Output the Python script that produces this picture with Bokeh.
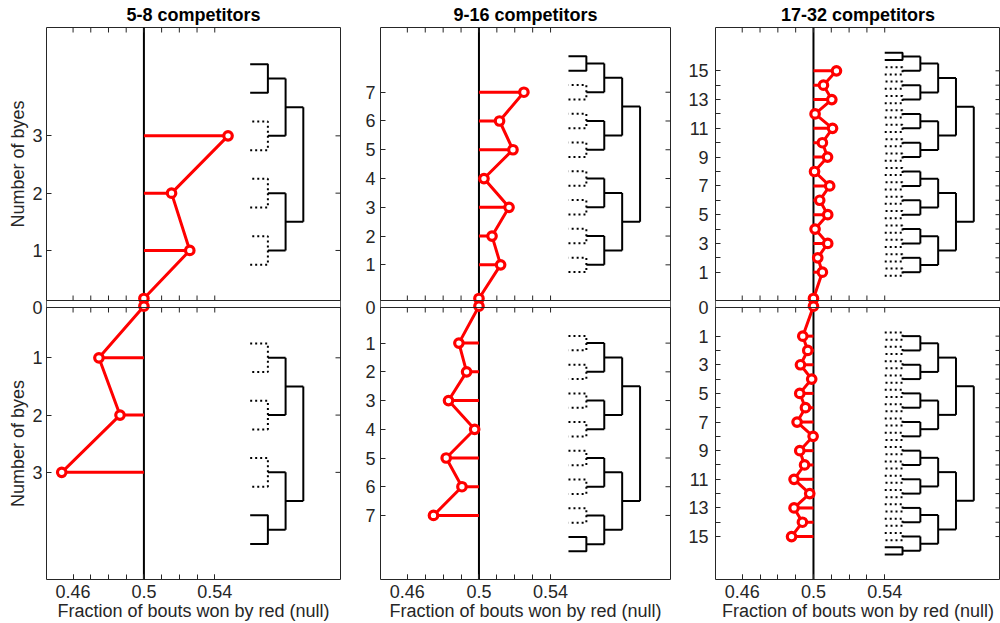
import numpy as np
from bokeh.plotting import figure
from bokeh.layouts import row
from bokeh.models import (Range1d, FixedTicker, CustomJSTickFormatter, Span, LinearAxis)
from bokeh.embed import file_html
from bokeh.resources import INLINE

# ---------------- data ----------------
titles = ["5-8 competitors", "9-16 competitors", "17-32 competitors"]

byes_58 = [0, 1, 2, 3]
frac_58_top = [0.5, 0.5259, 0.5156, 0.5475]
frac_58_bot = [0.5, 0.4746, 0.4865, 0.4536]

byes_916 = [0, 1, 2, 3, 4, 5, 6, 7]
frac_916_top = [0.5, 0.5121, 0.5073, 0.5168, 0.5028, 0.5190, 0.5115, 0.5251]
frac_916_bot = [0.5, 0.4888, 0.4931, 0.4830, 0.4976, 0.4817, 0.4905, 0.4746]

byes_1732 = list(range(16))
frac_1732_top = [0.5, 0.5050, 0.5024, 0.5080, 0.5009, 0.5080, 0.5035, 0.5091,
                 0.5006, 0.5079, 0.5050, 0.5107, 0.5009, 0.5103, 0.5056, 0.5129]
frac_1732_bot = [0.5, 0.4940, 0.4968, 0.4927, 0.4990, 0.4923, 0.4955, 0.4908,
                 0.4998, 0.4923, 0.4950, 0.4891, 0.4979, 0.4891, 0.4938, 0.4877]

bracket_pairs = [4, 8, 16]

x_major = [0.46, 0.5, 0.54]
x_minor = [0.46, 0.47, 0.48, 0.49, 0.5, 0.51, 0.52, 0.53, 0.54]

ymaj_58 = [1, 2, 3]
ymaj_916 = [1, 2, 3, 4, 5, 6, 7]
ymaj_1732 = [1, 3, 5, 7, 9, 11, 13, 15]
ymin_1732 = [2, 4, 6, 8, 10, 12, 14]

ylabel_text = "Number of byes"
xlabel_text = "Fraction of bouts won by red (null)"

# ---------------- layout / style ----------------
FONT = "Liberation Sans"
DARK = "#262626"
RED = "#ff0000"
X_START = 0.445
FS = "18px"
BT, TOP_PX, GAP, BOT_PX, BB = 27, 273, 7, 272, 44
H = BT + TOP_PX + GAP + BOT_PX + BB
TICK = 5

cfg = [
    dict(w=345, bl=46, br=5, x_end=0.611, ytop=(0.127, 4.89), ybot=(4.87, 0.122),
         byes=byes_58, top=frac_58_top, bot=frac_58_bot, ymaj=ymaj_58, ymin=[],
         ylabel=True, lstand=4),
    dict(w=330, bl=35, br=5, x_end=0.607, ytop=(-0.24, 9.25), ybot=(9.23, -0.24),
         byes=byes_916, top=frac_916_top, bot=frac_916_bot, ymaj=ymaj_916, ymin=[],
         ylabel=False, lstand=5),
    dict(w=325, bl=40, br=0, x_end=0.605, ytop=(-0.967, 18.01), ybot=(18.0, -1.0),
         byes=byes_1732, top=frac_1732_top, bot=frac_1732_bot, ymaj=ymaj_1732,
         ymin=ymin_1732, ylabel=False, lstand=7),
]

xfmt_code = "return String(Math.round(tick * 100) / 100);"
yfmt_code = """
let best = 0, bd = 1e99;
for (let i = 0; i < pos.length; i++) {
  const d = Math.abs(pos[i] - tick);
  if (d < bd) { bd = d; best = i; }
}
return lab[best];
"""


def bracket(p, npairs, rname, x_root=0.59, step=0.01):
    nlev = int(round(np.log2(npairs))) + 1
    x0 = x_root - step * nlev
    x1 = x0 + step
    sx, sy, dx, dy = [], [], [], []
    for n in range(1, npairs + 1):
        px = [x0, x1, x1, x0]
        py = [n - 0.25, n - 0.25, n + 0.25, n + 0.25]
        if n == npairs:
            sx.append(px); sy.append(py)
        else:
            dx.append(px); dy.append(py)
        sx.append([x1, x1 + step]); sy.append([n, n])
    nodes = list(range(1, npairs + 1))
    x = x1 + step
    while len(nodes) > 1:
        new = []
        for a, b in zip(nodes[0::2], nodes[1::2]):
            m = (a + b) / 2.0
            sx.append([x, x]); sy.append([a, b])
            if len(nodes) > 2:
                sx.append([x, x + step]); sy.append([m, m])
            new.append(m)
        nodes = new
        x += step
    p.multi_line(sx, sy, line_color="black", line_width=2, y_range_name=rname)
    p.multi_line(dx, dy, line_color="black", line_width=2, line_dash="2 3",
                 y_range_name=rname)


def draw_series(p, byes, frac, zero, rname):
    ys = [zero if b == 0 else b for b in byes]
    sb = [b for b in byes if b > 0]
    sf = [f for b, f in zip(byes, frac) if b > 0]
    p.segment(x0=[0.5] * len(sb), y0=sb, x1=sf, y1=sb, line_color=RED, line_width=3,
              y_range_name=rname)
    p.line(frac, ys, line_color=RED, line_width=3, y_range_name=rname)
    p.scatter(frac, ys, marker="circle", size=8.5, line_color=RED, line_width=3.2,
              fill_color="white", y_range_name=rname)


def style_ticks(a):
    a.axis_line_color = None
    a.major_tick_in = TICK
    a.major_tick_out = 0
    a.minor_tick_in = TICK
    a.minor_tick_out = 0
    a.major_tick_line_color = DARK
    a.minor_tick_line_color = DARK
    a.major_label_text_font = FONT
    a.major_label_text_font_size = FS
    a.major_label_text_color = DARK


figs = []
for i, c in enumerate(cfg):
    lo, hi = c["ytop"]
    st, en = c["ybot"]
    u = (hi - lo) / TOP_PX          # top-panel data units per pixel
    v = (st - en) / BOT_PX          # bottom-panel data units per pixel
    y_start = lo - (GAP + BOT_PX) * u

    def conv(b):
        # bottom-panel value -> default (top-panel) range value at the same pixel
        return y_start + ((st - b) / v) * u

    p = figure(width=c["w"], height=H, title=titles[i],
               x_range=Range1d(X_START, c["x_end"]), y_range=Range1d(y_start, hi),
               output_backend="svg", toolbar_location=None,
               min_border_left=c["bl"], min_border_right=c["br"],
               min_border_top=BT, min_border_bottom=BB)
    p.extra_y_ranges = {"bot": Range1d(st, en - (TOP_PX + GAP) * v)}
    p.xgrid.visible = False
    p.ygrid.visible = False
    p.outline_line_color = DARK
    p.outline_line_width = 1
    p.background_fill_color = "white"
    p.border_fill_color = "white"

    p.title.align = "center"
    p.title.text_font = FONT
    p.title.text_font_size = FS
    p.title.text_font_style = "bold"
    p.title.text_color = "black"
    p.title.standoff = 5

    # ---- y axis: ticks of both panels on one axis ----
    zero_tick = conv(en)
    maj_pos = list(c["ymaj"]) + [zero_tick] + [conv(b) for b in c["ymaj"]]
    maj_lab = [str(b) for b in c["ymaj"]] + ["0"] + [str(b) for b in c["ymaj"]]
    min_pos = list(c["ymin"]) + [conv(b) for b in c["ymin"]]
    ay = p.yaxis[0]
    ay.ticker = FixedTicker(ticks=maj_pos, minor_ticks=min_pos)
    ay.formatter = CustomJSTickFormatter(args=dict(pos=maj_pos, lab=maj_lab), code=yfmt_code)
    style_ticks(ay)
    ay.major_label_standoff = c["lstand"]

    # ---- y axis titles (one per panel), as rotated labels of an outer axis ----
    if c["ylabel"]:
        ay2 = LinearAxis()
        ay2.ticker = FixedTicker(ticks=[(lo + hi) / 2.0, conv((st + en) / 2.0)], minor_ticks=[])
        ay2.formatter = CustomJSTickFormatter(args=dict(t=ylabel_text), code="return t;")
        style_ticks(ay2)
        ay2.major_tick_in = 0
        ay2.major_tick_line_color = None
        ay2.minor_tick_line_color = None
        ay2.major_label_orientation = "parallel"
        ay2.major_label_standoff = 2
        p.add_layout(ay2, "left")

    # ---- x axis ----
    ax = p.xaxis[0]
    ax.ticker = FixedTicker(ticks=x_major, minor_ticks=x_minor)
    ax.formatter = CustomJSTickFormatter(code=xfmt_code)
    style_ticks(ax)
    ax.major_label_standoff = 5
    ax.axis_label = xlabel_text
    ax.axis_label_text_font = FONT
    ax.axis_label_text_font_size = FS
    ax.axis_label_text_font_style = "normal"
    ax.axis_label_text_color = DARK
    ax.axis_label_standoff = 0

    # ---- inner frame edges between the two panels ----
    bot_top = conv(en)
    p.quad(left=[X_START], right=[c["x_end"]], bottom=[bot_top], top=[lo],
           fill_color="white", line_color=None, level="underlay")
    p.add_layout(Span(location=lo, dimension="width", line_color=DARK, line_width=1))
    p.add_layout(Span(location=bot_top, dimension="width", line_color=DARK, line_width=1))

    # ---- edge ticks (inward) ----
    nx = len(x_minor)
    p.scatter(x_minor, [hi] * nx, marker="dash", size=2 * TICK, angle=np.pi / 2,
              line_color=DARK, line_width=1)
    p.segment(x0=x_minor, y0=[lo] * nx, x1=x_minor, y1=[lo + TICK * u] * nx,
              line_color=DARK, line_width=1)
    p.segment(x0=x_minor, y0=[en] * nx, x1=x_minor, y1=[en + TICK * v] * nx,
              line_color=DARK, line_width=1, y_range_name="bot")
    right_pos = maj_pos + min_pos
    p.scatter([c["x_end"]] * len(right_pos), right_pos, marker="dash", size=2 * TICK,
              line_color=DARK, line_width=1)

    # ---- null line ----
    p.add_layout(Span(location=0.5, dimension="height", line_color="black",
                      line_width=2, level="underlay"))

    # ---- brackets and series ----
    bracket(p, bracket_pairs[i], "default")
    bracket(p, bracket_pairs[i], "bot")
    draw_series(p, c["byes"], c["top"], lo + 2 * u, "default")
    draw_series(p, c["byes"], c["bot"], en - 1.3 * v, "bot")

    figs.append(p)

layout = row(*figs)
open("out.html", "w").write(file_html(layout, INLINE))
